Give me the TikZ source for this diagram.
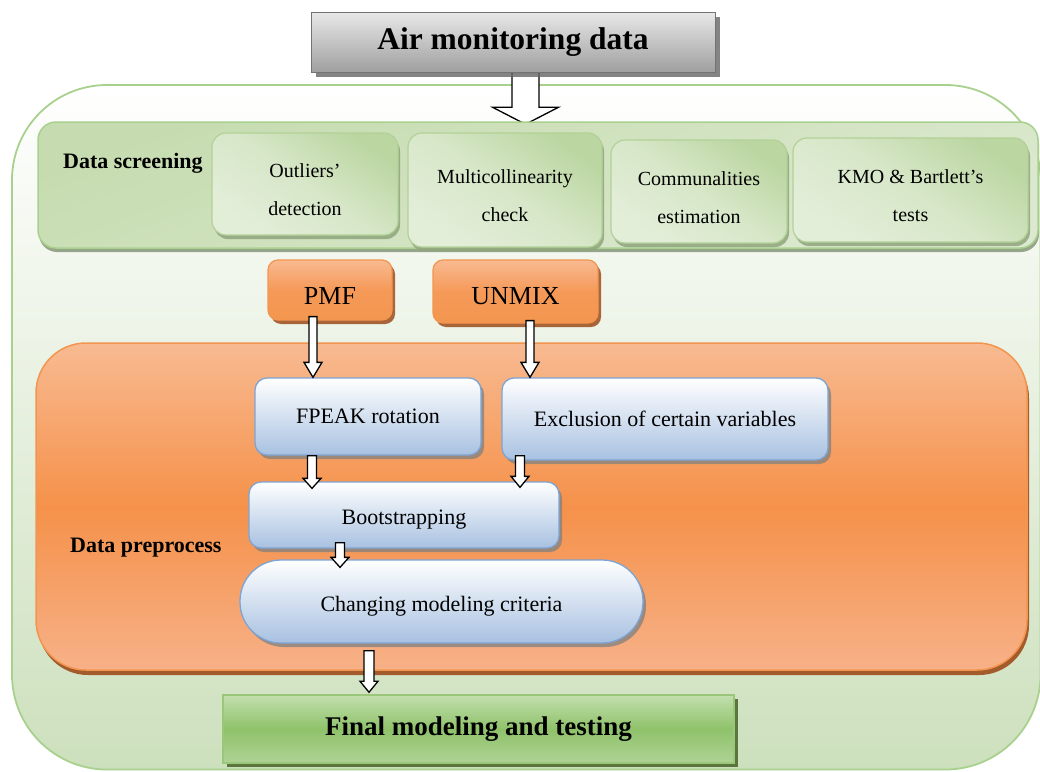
\documentclass[tikz,border=0pt]{standalone}
\usepackage{fontspec}
\setmainfont{Liberation Serif}
\usetikzlibrary{calc,shadows}
\pgfdeclarelayer{bg}
\pgfdeclarelayer{mid}
\pgfsetlayers{bg,mid,main}
\definecolor{pgreen}{HTML}{CDE0BD}
\definecolor{pgreenb}{HTML}{A9D18E}
\definecolor{scrA}{HTML}{C6DCB0}
\definecolor{scrB}{HTML}{DCE9D0}
\definecolor{scrS}{HTML}{8E9E80}
\definecolor{subA}{HTML}{BBD6A1}
\definecolor{subB}{HTML}{E3EED9}
\definecolor{subE}{HTML}{B2D197}
\definecolor{subS}{HTML}{8FA57D}
\definecolor{orA}{HTML}{F8BA91}
\definecolor{orM}{HTML}{F5914A}
\definecolor{orB}{HTML}{F7B188}
\definecolor{orE}{HTML}{F2964F}
\definecolor{orS}{HTML}{9E4C1C}
\definecolor{blB}{HTML}{A8C1E1}
\definecolor{blE}{HTML}{7DA4D4}
\definecolor{fgA}{HTML}{C2DFAE}
\definecolor{fgM}{HTML}{8FC26A}
\definecolor{fgB}{HTML}{AFD396}
\definecolor{fgE}{HTML}{9BC77A}
\definecolor{fgS}{HTML}{4F6B30}
\newcommand\blockarr[5]{\draw[barr] let \p1=(#1), \p2=(#2) in
  (\x1-#3,\y1) -- (\x1-#3,\y2+#5) -- (\x1-#4,\y2+#5) -- (\x1,\y2) --
  (\x1+#4,\y2+#5) -- (\x1+#3,\y2+#5) -- (\x1+#3,\y1) -- cycle;}
\newcommand\twol[2]{\raisebox{-5pt}[\height][\depth]{\begin{tabular}{@{}c@{}}#1\\#2\end{tabular}}}
\newcommand\lowr[2]{\raisebox{-#1}[\height][\depth]{#2}}
\tikzset{
  every node/.style={inner sep=0pt, text=black},
  barr/.style={draw=black, fill=white, line width=1.3pt, line join=miter},
  panel/.style={draw=pgreenb, line width=1.8pt, rounded corners=95pt, top color=white, bottom color=pgreen},
  airbox/.style={rectangle, draw=gray!90!black, line width=1pt, top color=gray!18, bottom color=gray!75,
    drop shadow={shadow xshift=5pt, shadow yshift=-5pt, fill=gray!80!black, opacity=0.8},
    font=\fontsize{31.5}{36}\selectfont\bfseries},
  scrbox/.style={rectangle, rounded corners=18pt, draw=pgreenb, line width=1.5pt,
    top color=scrA, bottom color=scrB, shading angle=20,
    drop shadow={shadow xshift=1pt, shadow yshift=-4pt, fill=scrS, opacity=0.9}},
  subbox/.style={rectangle, rounded corners=14pt, draw=subE, line width=1.2pt,
    top color=subA, bottom color=subB, middle color=subB!70!subA, shading angle=-35,
    drop shadow={shadow xshift=2pt, shadow yshift=-4pt, fill=subS, opacity=0.85},
    font=\fontsize{20}{38}\selectfont},
  orbox/.style={rectangle, rounded corners=10pt, draw=orE, line width=1.2pt,
    top color=orA, bottom color=orE, middle color=orM!80!orA,
    drop shadow={shadow xshift=3pt, shadow yshift=-4pt, fill=orS, opacity=0.85},
    font=\fontsize{26}{30}\selectfont},
  prebox/.style={rectangle, rounded corners=50pt, draw=orE, line width=1.5pt,
    top color=orA, bottom color=orB, middle color=orM,
    drop shadow={shadow xshift=2pt, shadow yshift=-5pt, fill=orS, opacity=0.9}},
  blbox/.style={rectangle, rounded corners=12pt, draw=blE, line width=1.3pt,
    top color=white, bottom color=blB,
    drop shadow={shadow xshift=3pt, shadow yshift=-4pt, fill=gray, opacity=0.75},
    font=\fontsize{22}{26}\selectfont},
  finbox/.style={rectangle, draw=fgE, line width=1.5pt,
    top color=fgA, bottom color=fgB, middle color=fgM,
    drop shadow={shadow xshift=4pt, shadow yshift=-4pt, fill=fgS, opacity=0.9},
    font=\fontsize{27}{32}\selectfont\bfseries},
  sect/.style={anchor=west, font=\fontsize{22}{26}\selectfont\bfseries}
}
\begin{document}
\begin{tikzpicture}[x=1pt,y=-1pt]
\useasboundingbox (0,0) rectangle (1040,771);
\begin{pgfonlayer}{bg}
\fill[white] (0,0) rectangle (1040,771);
\begin{scope}
  \clip (0,0) rectangle (1040,771);
  \path[panel] (12,85) rectangle (1040.5,769.5);
\end{scope}
\end{pgfonlayer}

\node[airbox, minimum width=404pt, minimum height=60pt] (air) at (513,42) {Air monitoring data};

\node[scrbox, minimum width=1000pt, minimum height=126pt] (scr) at (538,185) {};
\begin{pgfonlayer}{mid}
\blockarr{[xshift=12.5pt]air.south}{[yshift=-3pt]scr.north}{13.5pt}{33pt}{17pt}
\end{pgfonlayer}
\node[sect] (scrlab) at (63,163) {Data screening};
\node[subbox, minimum width=186pt, minimum height=102pt] (outl) at (305,184) {\twol{Outliers’}{detection}};
\node[subbox, minimum width=194pt, minimum height=114pt] (multi) at (505,190) {\twol{Multicollinearity}{check}};
\node[subbox, minimum width=176pt, minimum height=103pt] (comm) at (699,191.5) {\twol{Communalities}{estimation}};
\node[subbox, minimum width=235pt, minimum height=104pt] (kmo) at (910.5,190) {\twol{KMO \& Bartlett’s}{tests}};

\node[orbox, minimum width=124pt, minimum height=60pt] (pmf) at (330,290) {\lowr{6pt}{PMF}};
\node[orbox, minimum width=165pt, minimum height=63pt] (unmix) at (515.5,291.5) {\lowr{5pt}{UNMIX}};

\node[prebox, minimum width=991pt, minimum height=327pt] (pre) at (531.5,506.5) {};
\node[sect] (prelab) at (70,548) {Data preprocess};

\node[blbox, minimum width=226pt, minimum height=77pt] (fpeak) at (368,416.5) {FPEAK rotation};
\node[blbox, minimum width=326pt, minimum height=82pt] (excl) at (665,419) {Exclusion of certain variables};
\node[blbox, minimum width=310pt, minimum height=66pt] (boot) at (404,515) {\lowr{5pt}{Bootstrapping}};
\node[blbox, rounded corners=41pt, minimum width=403pt, minimum height=83pt] (change) at (441.5,601.5) {\lowr{5pt}{Changing modeling criteria}};

\blockarr{[xshift=-17pt,yshift=4pt]pmf.south}{fpeak.north}{4pt}{9pt}{15pt}
\blockarr{[xshift=14.5pt,yshift=3pt]unmix.south}{excl.north}{4pt}{9pt}{15pt}
\blockarr{[xshift=-56pt]fpeak.south}{[yshift=-7pt]boot.north}{4.5pt}{9pt}{10pt}
\blockarr{[xshift=-145pt,yshift=5pt]excl.south}{[yshift=-6pt]boot.north}{4.5pt}{9pt}{11pt}
\blockarr{[xshift=-64pt,yshift=6pt]boot.south}{[yshift=-8pt]change.north}{4.5pt}{9pt}{10pt}

\node[finbox, minimum width=511pt, minimum height=68pt] (final) at (478.5,729) {Final modeling and testing};
\blockarr{[xshift=-72.5pt,yshift=-7pt]change.south}{[yshift=2pt]final.north}{5pt}{9pt}{11pt}
\end{tikzpicture}
\end{document}
